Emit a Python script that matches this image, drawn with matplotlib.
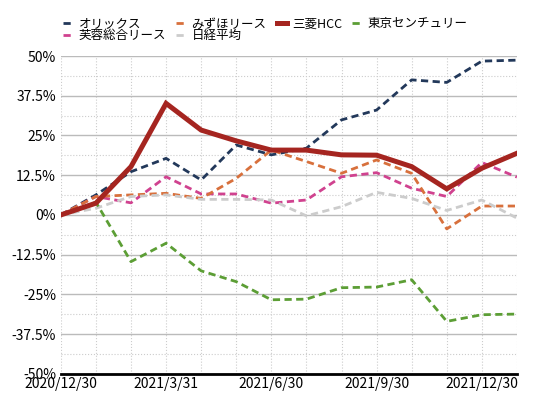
import matplotlib
matplotlib.use("Agg")
import matplotlib.pyplot as plt
from matplotlib.ticker import MultipleLocator, FuncFormatter

plt.rcParams['font.family'] = ['Noto Sans CJK JP', 'DejaVu Sans']

dates = ["2020/12/30", "2021/1/29", "2021/2/26", "2021/3/31", "2021/4/30",
         "2021/5/31", "2021/6/30", "2021/7/30", "2021/8/31", "2021/9/30",
         "2021/10/29", "2021/11/30", "2021/12/30", "2022/1/31"]

orix = [0, 6.3, 13.6, 17.8, 11.0, 22.0, 18.9, 21.0, 29.9, 33.0, 42.5, 41.7, 48.4, 48.7]
fuyo = [0, 5.8, 3.8, 12.0, 6.6, 6.6, 3.7, 4.7, 12.0, 13.3, 8.4, 5.8, 16.5, 11.9]
mizuho = [0, 5.8, 6.3, 6.8, 5.2, 11.5, 20.4, 16.8, 13.1, 17.3, 13.1, -4.4, 2.8, 2.8]
nikkei = [0, 2.1, 5.8, 6.3, 4.9, 4.9, 4.7, -0.3, 2.6, 7.1, 5.2, 1.4, 4.7, -1.0]
hcc = [0, 3.7, 15.2, 35.1, 26.7, 23.3, 20.4, 20.4, 18.9, 18.8, 15.2, 8.2, 14.7, 19.4]
tc = [0, 4.0, -14.7, -8.9, -17.6, -21.0, -26.7, -26.5, -22.9, -22.7, -20.4, -33.5, -31.4, -31.2]

names = ["オリックス", "芙蓉総合リース", "みずほリース", "日経平均", "三菱HCC", "東京センチュリー"]
series = [orix, fuyo, mizuho, nikkei, hcc, tc]
colors = ["#22385a", "#d0428f", "#d8703c", "#cccccc", "#a52520", "#5c9e35"]

fig, ax = plt.subplots(figsize=(5.43, 4.09), dpi=100)
fig.subplots_adjust(left=0.112, right=0.952, bottom=0.086, top=0.863)

x = list(range(len(dates)))
dash = (0, (2.6, 1.6))
handles = []
for name, vals, c in zip(names, series, colors):
    if name == "三菱HCC":
        h, = ax.plot(x, vals, color=c, lw=3.6, solid_joinstyle="miter", zorder=5, label=name)
    else:
        h, = ax.plot(x, vals, color=c, lw=2, linestyle=dash, zorder=4, label=name)
    handles.append(h)

ax.set_xlim(0, len(dates) - 1)
ax.set_ylim(-50, 50)
ax.yaxis.set_major_locator(MultipleLocator(12.5))
ax.yaxis.set_minor_locator(MultipleLocator(6.25))
ax.yaxis.set_major_formatter(FuncFormatter(lambda v, p: f"{v:g}%"))
ax.set_xticks(x, minor=True)
ax.set_xticks(x[::3])
ax.set_xticklabels(dates[::3])

ax.grid(which="major", axis="y", color="#bbbbbb", lw=1, linestyle="-")
ax.grid(which="minor", axis="y", color="#cccccc", lw=0.8, linestyle=":")
ax.grid(which="both", axis="x", color="#cccccc", lw=0.8, linestyle=":")
ax.set_axisbelow(True)

for s in ["top", "right", "left"]:
    ax.spines[s].set_visible(False)
ax.spines["bottom"].set_linewidth(2)
ax.tick_params(which="both", length=0, labelsize=10)
ax.tick_params(axis="x", pad=2)

ax.legend(handles=handles, ncol=4, loc="lower left", bbox_to_anchor=(-0.012, 1.02),
          frameon=False, fontsize=9, handlelength=0.8, handletextpad=0.45,
          columnspacing=0.8, labelspacing=-0.1, borderpad=0.1)

plt.savefig("out.png")
plt.close()
